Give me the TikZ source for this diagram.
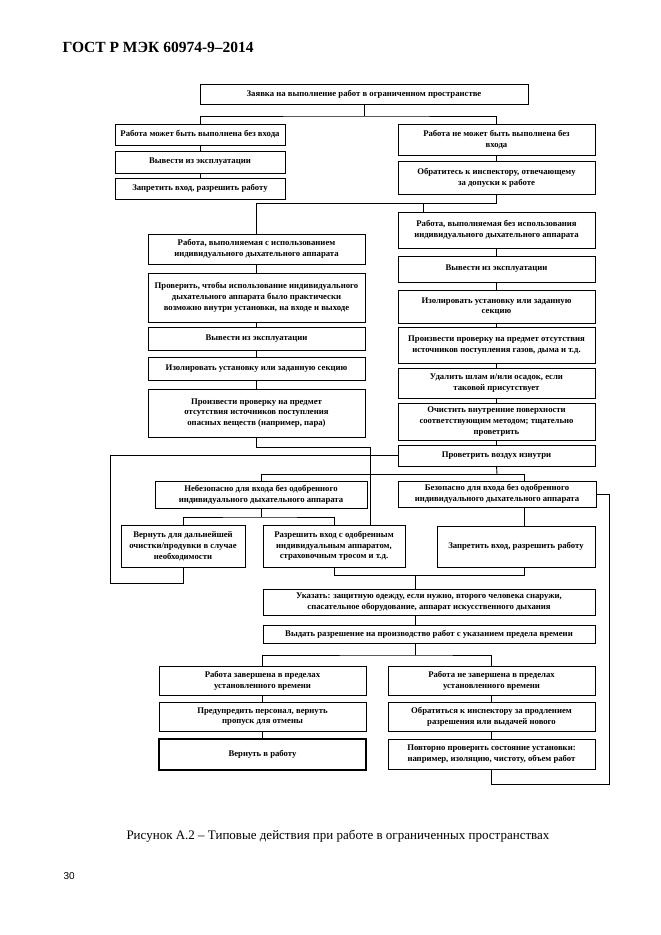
\documentclass[tikz,border=0pt]{standalone}
\usepackage{fontspec}
\setmainfont{Liberation Serif}
\newfontfamily\capsans{Liberation Sans}
\newcommand\boxfont{\fontsize{8.7}{10.8}\selectfont\bfseries}
\newcommand\mybox[6]{\node[box, minimum width={(#4-#2)*1pt}, minimum height={(#5-#3)*1pt}] (#1) at ({(#2+#4)/2},{(#3+#5)/2}) {#6};}
\tikzset{
  box/.style={draw, line width=1pt, inner sep=0pt, outer sep=0pt, align=center, font=\boxfont},
  ln/.style={line width=0.9pt},
}
\begin{document}
\begin{tikzpicture}[x=1pt,y=-1pt]
\useasboundingbox (0,0) rectangle (661,935);
\node[font=\fontsize{15.5}{18}\selectfont\bfseries, anchor=west] (hdr) at (59,47) {ГОСТ Р МЭК 60974-9–2014};

\mybox{top}{200}{84}{528}{104}{Заявка на выполнение работ в ограниченном пространстве}
\mybox{L1}{115}{124}{285}{145}{Работа может быть выполнена без входа}
\mybox{L2}{115}{151}{285}{173}{Вывести из эксплуатации}
\mybox{L3}{115}{178}{285}{199}{Запретить вход, разрешить работу}
\mybox{R1}{398}{124}{595}{155}{Работа не может быть выполнена без\\входа}
\mybox{R2}{398}{161}{595}{194}{Обратитесь к инспектору, отвечающему\\за допуски к работе}

\mybox{LA}{148}{234}{365}{264}{Работа, выполняемая с использованием\\индивидуального дыхательного аппарата}
\mybox{LB}{148}{273}{365}{322}{Проверить, чтобы использование индивидуального\\дыхательного аппарата было практически\\возможно внутри установки, на входе и выходе}
\mybox{LC}{148}{327}{365}{350}{Вывести из эксплуатации}
\mybox{LD}{148}{357}{365}{380}{Изолировать установку или заданную секцию}
\mybox{LE}{148}{389}{365}{437}{Произвести проверку на предмет\\отсутствия источников поступления\\опасных веществ (например, пара)}

\mybox{RA}{398}{212}{595}{248}{Работа, выполняемая без использования\\индивидуального дыхательного аппарата}
\mybox{RB}{398}{256}{595}{282}{Вывести из эксплуатации}
\mybox{RC}{398}{290}{595}{323}{Изолировать установку или заданную\\секцию}
\mybox{RD}{398}{327}{595}{363}{Произвести проверку на предмет отсутствия\\источников поступления газов, дыма и т.д.}
\mybox{RE}{398}{368}{595}{398}{Удалить шлам и/или осадок, если\\таковой присутствует}
\mybox{RF}{398}{403}{595}{440}{Очистить внутренние поверхности\\соответствующим методом; тщательно\\проветрить}
\mybox{RG}{398}{445}{595}{466}{Проветрить воздух изнутри}

\mybox{N}{155}{481}{367}{508}{Небезопасно для входа без одобренного\\индивидуального дыхательного аппарата}
\mybox{S}{398}{481}{596}{507}{Безопасно для входа без одобренного\\индивидуального дыхательного аппарата}
\mybox{V}{121}{525}{245}{567}{Вернуть для дальнейшей\\очистки/продувки в случае\\необходимости}
\mybox{P}{263}{525}{405}{567}{Разрешить вход с одобренным\\индивидуальным аппаратом,\\страховочным тросом и т.д.}
\mybox{Z}{437}{526}{595}{567}{Запретить вход, разрешить работу}

\mybox{U}{263}{589}{595}{615}{Указать: защитную одежду, если нужно, второго человека снаружи,\\спасательное оборудование, аппарат искусственного дыхания}
\mybox{W}{263}{625}{595}{643}{Выдать разрешение на производство работ с указанием предела времени}

\mybox{WC}{159}{666}{366}{695}{Работа завершена в пределах\\установленного времени}
\mybox{WN}{388}{666}{595}{695}{Работа не завершена в пределах\\установленного времени}
\mybox{WP}{159}{702}{366}{731}{Предупредить персонал, вернуть\\пропуск для отмены}
\mybox{WO}{388}{702}{595}{731}{Обратиться к инспектору за продлением\\разрешения или выдачей нового}
\node[box, line width=1.7pt, minimum width=207pt, minimum height=31pt] (WV) at (262.5,754.5) {Вернуть в работу};
\mybox{WR}{388}{739}{595}{769}{Повторно проверить состояние установки:\\например, изоляцию, чистоту, объем работ}

% junction coordinates
\coordinate (j1) at (364,116);
\coordinate (j2) at (423,203);
\coordinate (j4) at (370,447);
\coordinate (j5) at (110,583);
\coordinate (j6) at (497,474);
\coordinate (j7) at (524,474);
\coordinate (j8) at (261,517);
\coordinate (j9) at (524,575);
\coordinate (j10) at (415,575);
\coordinate (j11) at (415,655);
\coordinate (j12) at (609,784);

\draw[ln] (top.south) -- (j1);
\draw[ln] (L1.north) |- (j1) -| (R1.north);
\draw[ln] (L1.south) -- (L2.north);
\draw[ln] (L2.south) -- (L3.north);
\draw[ln] (R1.south) -- (R2.north);
\draw[ln] (R2.south) |- (LA.north |- j2) -- (LA.north);
\draw[ln] (j2) -- (j2 |- RA.north);
\draw[ln] (LA.south) -- (LB.north);
\draw[ln] (LB.south) -- (LC.north);
\draw[ln] (LC.south) -- (LD.north);
\draw[ln] (LD.south) -- (LE.north);
\draw[ln] (RA.south) -- (RB.north);
\draw[ln] (RB.south) -- (RC.north);
\draw[ln] (RC.south) -- (RD.north);
\draw[ln] (RD.south) -- (RE.north);
\draw[ln] (RE.south) -- (RF.north);
\draw[ln] (RF.south) -- (RG.north);
\draw[ln] (LE.south) |- (j4) -- (j4 |- P.north);
\draw[ln] (RG.west) -| (j5) -| (V.south);
\draw[ln] (RG.south) -- (j6);
\draw[ln] (N.north) |- (j7) -- (j7 |- S.north);
\draw[ln] (N.south) -- (j8);
\draw[ln] (V.north) |- (j8) -| (P.north);
\draw[ln] (S.south -| j9) -- (Z.north -| j9);
\draw[ln] (P.south) |- (j9) -- (j9 |- Z.south);
\draw[ln] (j10) -- (j10 |- U.north);
\draw[ln] (U.south -| j10) -- (W.north -| j10);
\draw[ln] (W.south -| j11) -- (j11);
\draw[ln] (WC.north) |- (j11) -| (WN.north);
\draw[ln] (WC.south) -- (WP.north);
\draw[ln] (WP.south) -- (WV.north);
\draw[ln] (WN.south) -- (WO.north);
\draw[ln] (WO.south) -- (WR.north);
\draw[ln] (S.east) -| (j12) -| (WR.south);

\node[font=\fontsize{13}{16}\selectfont] (cap) at (338,836) {Рисунок А.2 – Типовые действия при работе в ограниченных пространствах};
\node[font=\capsans\fontsize{10}{12}\selectfont, anchor=west] (pg) at (60,876) {30};
\end{tikzpicture}
\end{document}
